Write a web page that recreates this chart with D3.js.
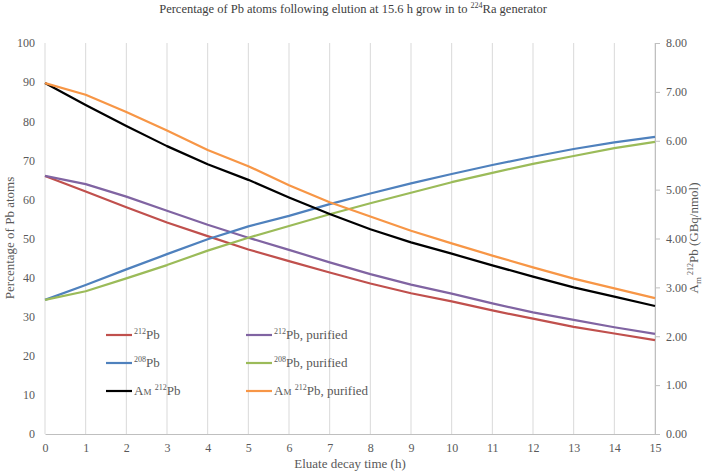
<!DOCTYPE html>
<html><head><meta charset="utf-8">
<script src="https://cdn.jsdelivr.net/npm/d3@7"></script>
<style>body{margin:0;background:#fff}svg{display:block}svg text{font-family:"Liberation Serif","Times New Roman",serif !important}</style>
</head><body>
<svg id="c" width="708" height="472"></svg>
<script>
const hours = [0,1,2,3,4,5,6,7,8,9,10,11,12,13,14,15];
const pb212 = [66.0,62.0,58.0,54.1,50.6,47.2,44.2,41.3,38.5,36.0,33.9,31.6,29.5,27.4,25.7,24.0];
const pb212Purified = [66.0,63.9,60.7,57.1,53.5,50.2,47.1,43.9,40.9,38.2,35.9,33.4,31.1,29.2,27.3,25.6];
const pb208 = [34.3,38.1,42.1,46.0,49.8,53.1,55.8,58.8,61.5,64.1,66.5,68.8,70.9,72.9,74.6,76.0];
const pb208Purified = [34.3,36.5,39.8,43.2,46.9,50.2,53.2,56.2,59.0,61.7,64.4,66.8,69.1,71.1,73.1,74.7];
const amPb212 = [7.18,6.73,6.30,5.89,5.52,5.20,4.84,4.50,4.19,3.92,3.69,3.45,3.22,3.00,2.81,2.62];
const amPb212Purified = [7.18,6.94,6.59,6.21,5.81,5.48,5.09,4.74,4.45,4.16,3.90,3.65,3.41,3.18,2.98,2.78];
const leftTicks = [0,10,20,30,40,50,60,70,80,90,100];
const rightTicks = [0,1,2,3,4,5,6,7,8];

const svg = d3.select("#c");
const x = d3.scaleLinear().domain([0,15]).range([45,655]);
const yL = d3.scaleLinear().domain([0,100]).range([434,43]);
const yR = d3.scaleLinear().domain([0,8]).range([434,43]);
const txt = "#595959";
const SERIF = '"Liberation Serif","Times New Roman",serif';

// vertical gridlines
svg.append("g").selectAll("line").data(hours).join("line")
  .attr("x1",d=>x(d)).attr("x2",d=>x(d)).attr("y1",yL(100)).attr("y2",yL(0))
  .attr("stroke","#d9d9d9").attr("stroke-width",1);

// bottom axis
const gx = svg.append("g").attr("transform",`translate(0,${yL(0)})`)
  .call(d3.axisBottom(x).tickValues(hours).tickFormat(d3.format("d")).tickSize(0).tickPadding(9));
gx.attr("font-family",SERIF);
gx.select(".domain").attr("stroke","#bfbfbf");
gx.selectAll("text").attr("fill",txt).attr("font-size",12).style("font-family",SERIF);

// left axis
const gl = svg.append("g").attr("transform",`translate(${x(0)},0)`)
  .call(d3.axisLeft(yL).tickValues(leftTicks).tickSize(0).tickPadding(10));
gl.attr("font-family",SERIF);
gl.select(".domain").remove();
gl.selectAll("text").attr("fill",txt).attr("font-size",12).style("font-family",SERIF);

// right axis
const gr = svg.append("g").attr("transform",`translate(${x(15)},0)`)
  .call(d3.axisRight(yR).tickValues(rightTicks).tickFormat(d3.format(".2f")).tickSize(5).tickPadding(6));
gr.attr("font-family",SERIF);
gr.select(".domain").attr("stroke","#bfbfbf");
gr.selectAll(".tick line").attr("stroke","#bfbfbf");
gr.selectAll("text").attr("fill",txt).attr("font-size",12).style("font-family",SERIF);

// series
const series = [
  {vals:pb212, y:yL, color:"#c0504d"},
  {vals:pb212Purified, y:yL, color:"#8064a2"},
  {vals:pb208, y:yL, color:"#4f81bd"},
  {vals:pb208Purified, y:yL, color:"#9bbb59"},
  {vals:amPb212, y:yR, color:"#000000"},
  {vals:amPb212Purified, y:yR, color:"#f79646"}
];
series.forEach(s=>{
  const line = d3.line().x((d,i)=>x(hours[i])).y(d=>s.y(d));
  svg.append("path").datum(s.vals).attr("d",line).attr("fill","none")
    .attr("stroke",s.color).attr("stroke-width",2.2).attr("stroke-linejoin","round");
});

// legend
const legend = [
  {c:"#c0504d", col:0,row:0, parts:[["212","sup"],["Pb",""]]},
  {c:"#8064a2", col:1,row:0, parts:[["212","sup"],["Pb, purified",""]]},
  {c:"#4f81bd", col:0,row:1, parts:[["208","sup"],["Pb",""]]},
  {c:"#9bbb59", col:1,row:1, parts:[["208","sup"],["Pb, purified",""]]},
  {c:"#000000", col:0,row:2, parts:[["A",""],["M","sc"],[" ",""],["212","sup"],["Pb",""]]},
  {c:"#f79646", col:1,row:2, parts:[["A",""],["M","sc"],[" ",""],["212","sup"],["Pb, purified",""]]}
];
const colX=[106,246], rowY=[335,363,391];
legend.forEach(l=>{
  const lx=colX[l.col], ly=rowY[l.row];
  svg.append("line").attr("x1",lx).attr("x2",lx+26).attr("y1",ly).attr("y2",ly)
    .attr("stroke",l.c).attr("stroke-width",2.2);
  const t=svg.append("text").attr("x",lx+28).attr("y",ly+4).attr("fill",txt).attr("font-size",13);
  l.parts.forEach((p,i)=>{
    const ts=t.append("tspan").text(p[0]);
    if(p[1]==="sup") ts.attr("font-size",8).attr("dy",-5);
    else if(p[1]==="sc") ts.attr("font-size",9);
    const prev=l.parts[i-1];
    if(prev && prev[1]==="sup") ts.attr("dy",5);
  });
});

// title
const title = svg.append("text").attr("x",353).attr("y",13).attr("text-anchor","middle")
  .attr("fill","#404040").attr("font-size",12.5);
title.append("tspan").text("Percentage  of Pb atoms following elution at 15.6 h grow in to ");
title.append("tspan").text("224").attr("font-size",8).attr("dy",-5);
title.append("tspan").text("Ra generator").attr("dy",5);

// x axis title
svg.append("text").attr("x",350).attr("y",468).attr("text-anchor","middle")
  .attr("fill",txt).attr("font-size",13).text("Eluate decay  time (h)");

// left axis title
svg.append("text").attr("transform","translate(14,238) rotate(-90)").attr("text-anchor","middle")
  .attr("fill",txt).attr("font-size",13).text("Percentage of Pb atoms");

// right axis title
const rt = svg.append("text").attr("transform","translate(698,238) rotate(-90)").attr("text-anchor","middle")
  .attr("fill",txt).attr("font-size",13);
rt.append("tspan").text("A");
rt.append("tspan").text("m").attr("font-size",9).attr("dy",3);
rt.append("tspan").text(" 212").attr("font-size",8).attr("dy",-8);
rt.append("tspan").text("Pb (GBq/nmol)").attr("dy",5);
</script>
</body></html>
